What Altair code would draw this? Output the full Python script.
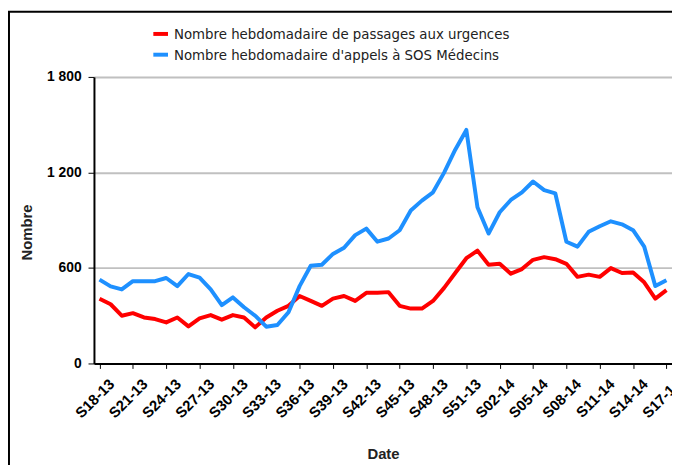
import altair as alt
import pandas as pd

weeks = [f"S{w:02d}-13" for w in range(18, 53)] + [f"S{w:02d}-14" for w in range(1, 18)]

urgences = [407, 372, 300, 316, 289, 279, 258, 289, 233, 283,
            304, 275, 304, 289, 227, 289, 331, 362, 424, 393,
            362, 407, 424, 393, 444, 444, 448, 362, 345, 345,
            393, 475, 568, 661, 709, 620, 626, 564, 593, 651,
            668, 655, 626, 544, 558, 544, 599, 568, 572, 510,
            407, 461]

sos = [527, 484, 465, 517, 517, 517, 537, 486, 562, 539,
       465, 366, 415, 353, 300, 231, 242, 322, 486, 614,
       620, 688, 727, 806, 847, 765, 785, 837, 961, 1023,
       1075, 1199, 1343, 1467, 981, 816, 950, 1027, 1075, 1143,
       1089, 1069, 765, 734, 827, 862, 893, 874, 837, 734,
       486, 523]

series_names = ["Nombre hebdomadaire de passages aux urgences",
                "Nombre hebdomadaire d'appels à SOS Médecins"]
series_colors = ["#ff0000", "#1e90ff"]
y_ticks = [0, 600, 1200, 1800]
x_label_weeks = weeks[::3]

df = pd.concat([
    pd.DataFrame({"Date": weeks, "Nombre": urgences, "serie": series_names[0], "ord": list(range(len(weeks)))}),
    pd.DataFrame({"Date": weeks, "Nombre": sos, "serie": series_names[1], "ord": list(range(len(weeks)))}),
])

FONT = "Liberation Sans, Arial"
LEG_FONT = "DejaVu Sans Condensed, Liberation Sans, Arial"

lines = alt.Chart(df).mark_line(strokeWidth=4, strokeJoin="round").encode(
    x=alt.X("Date:O", sort=weeks,
            scale=alt.Scale(type="point", padding=0.5),
            axis=alt.Axis(values=x_label_weeks, labelAngle=-45, labelAlign="right",
                          labelBaseline="top", labelFontSize=15, labelFontWeight="bold",
                          labelFont=FONT, labelColor="#000", tickSize=5, tickColor="#000",
                          tickWidth=1, domainColor="#000", domainWidth=2,
                          title="Date", titleFont=FONT, titleFontSize=15, titleFontWeight="bold",
                          titleColor="#222", titleY=84, grid=False, labelPadding=8,
                          labelOffset=7, labelBound=False, labelOverlap=False)),
    y=alt.Y("Nombre:Q", scale=alt.Scale(domain=[0, 1800], nice=False),
            axis=alt.Axis(values=y_ticks,
                          labelExpr="replace(format(datum.value, ','), ',', ' ')",
                          labelFontSize=14, labelFontWeight="bold", labelFont=FONT,
                          labelColor="#000", tickSize=6, tickColor="#000",
                          labelPadding=7,
                          domainColor="#000", domainWidth=2,
                          gridColor="#c0c0c0", gridWidth=2,
                          title="Nombre", titleFont=FONT, titleFontSize=15,
                          titleFontWeight="bold", titleColor="#222",
                          titleX=-60, titleY=157, titleAngle=-90)),
    color=alt.Color("serie:N", scale=alt.Scale(domain=series_names, range=series_colors),
                    legend=alt.Legend(title=None, orient="none", legendX=58, legendY=-53,
                                      symbolType="stroke", symbolStrokeWidth=4,
                                      symbolSize=220, labelFontSize=15,
                                      labelFont=LEG_FONT, labelColor="#222",
                                      labelLimit=0,
                                      rowPadding=3, labelOffset=4)),
    order="ord:Q",
)

frame = alt.Chart(pd.DataFrame({"a": [0]})).mark_rect(
    fill=None, stroke="#000", strokeWidth=2, clip=False
).encode(x=alt.value(-86), y=alt.value(-66), x2=alt.value(700), y2=alt.value(500))

chart = alt.layer(frame, lines).properties(
    width=585, height=290,
    padding={"left": 87, "top": 67, "right": 0, "bottom": 100},
    autosize=alt.AutoSizeParams(type="none"),
).configure_view(stroke="#000", strokeWidth=2).configure(background="white")

chart.save("out.html", embed_options={"renderer": "svg", "actions": False})
